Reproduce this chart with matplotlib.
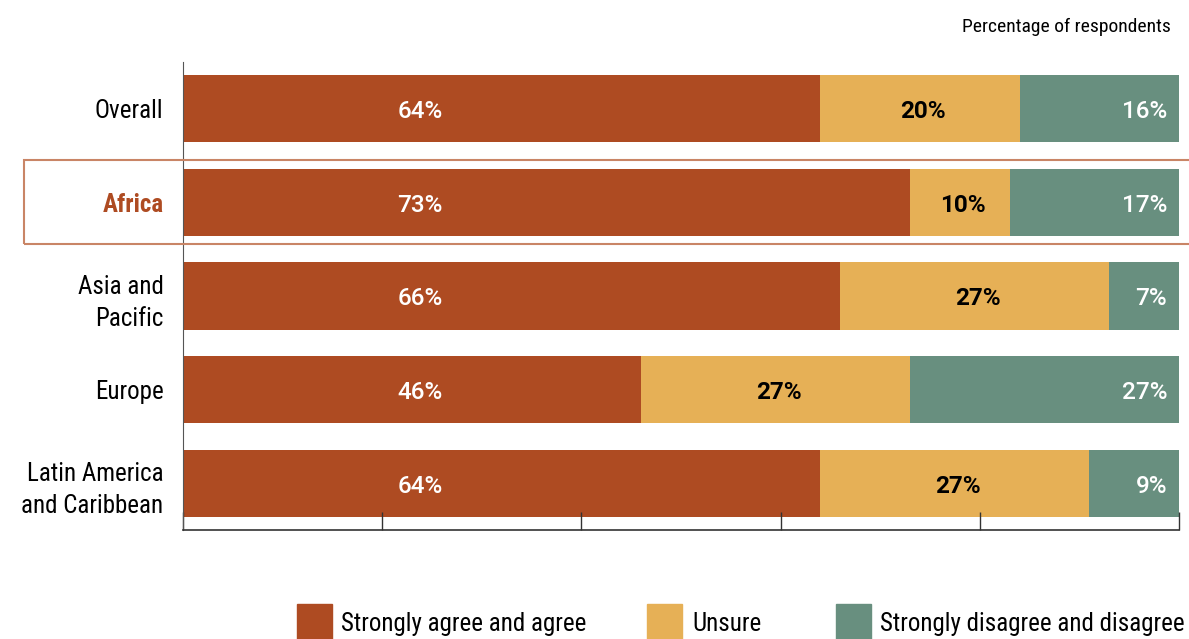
import matplotlib
matplotlib.use('Agg')
import matplotlib.pyplot as plt
from matplotlib.patches import Rectangle
from matplotlib import font_manager

# Survey shares by region
regions = ['Overall', 'Africa', 'Asia and\nPacific', 'Europe', 'Latin America\nand Caribbean']
agree = [64, 73, 66, 46, 64]
unsure = [20, 10, 27, 27, 27]
disagree = [16, 17, 7, 27, 9]
legend_labels = ['Strongly agree and agree', 'Unsure', 'Strongly disagree and disagree']

c_agree = '#AE4B22'
c_unsure = '#E6B056'
c_disagree = '#688F7F'
c_box = '#C98566'

names = {f.name for f in font_manager.fontManager.ttflist}
family = [f for f in ['Roboto Condensed', 'Liberation Sans Narrow', 'Roboto', 'DejaVu Sans'] if f in names]
plt.rcParams['font.family'] = family
num_family = [f for f in ['Roboto', 'DejaVu Sans'] if f in names]

fig = plt.figure(figsize=(11.89, 6.39), dpi=100)
W, H = 1189, 639
ax = fig.add_axes([183 / W, 1 - 530 / H, 996 / W, 468 / H])

y = list(range(len(regions)))
h = 0.717
ax.barh(y, agree, height=h, color=c_agree)
ax.barh(y, unsure, left=agree, height=h, color=c_unsure)
left3 = [a + u for a, u in zip(agree, unsure)]
ax.barh(y, disagree, left=left3, height=h, color=c_disagree)

num_kw = dict(fontsize=17.5, family=num_family, va='center')
for i in y:
    ty = i + 0.03
    ax.text(23.8, ty, f'{agree[i]}%', color='white', ha='center',
            fontweight='medium', **num_kw)
    ax.text(agree[i] + unsure[i] / 2 + 0.3, ty, f'{unsure[i]}%', color='black',
            ha='center', fontweight='bold', **num_kw)
    ax.text(98.8, ty, f'{disagree[i]}%', color='white', ha='right',
            fontweight='medium', **num_kw)

ax.set_xlim(0, 100)
ax.set_ylim(len(regions) - 0.5, -0.5)
ax.set_xticks([0, 20, 40, 60, 80, 100])
ax.set_xticklabels([])
ax.tick_params(axis='x', direction='in', length=13, width=1, color='#333333')
ax.set_yticks(y)
ax.set_yticklabels(regions, fontsize=18, linespacing=1.45)
ax.tick_params(axis='y', length=0, pad=14)
for lbl in ax.get_yticklabels():
    if lbl.get_text() == 'Africa':
        lbl.set_color(c_agree)
        lbl.set_fontweight('bold')
for s in ['top', 'right']:
    ax.spines[s].set_visible(False)
ax.spines['left'].set_color('#555555')
ax.spines['bottom'].set_color('#333333')
ax.spines['bottom'].set_linewidth(1.2)

# highlight frame around Africa row
fig.patches.append(Rectangle((24 / W, 1 - 244 / H), 1200 / W, 84 / H,
                             transform=fig.transFigure, fill=False,
                             edgecolor=c_box, linewidth=1.5, zorder=0))

fig.text(1171 / W, 1 - 27 / H, 'Percentage of respondents', fontsize=14,
         ha='right', va='center')

# legend at the bottom
for x0, xt, col, lab in zip([297, 647, 836], [341, 692, 880],
                            [c_agree, c_unsure, c_disagree], legend_labels):
    fig.patches.append(Rectangle((x0 / W, 1 - 639 / H), 35 / W, 35 / H,
                                 transform=fig.transFigure, color=col))
    fig.text(xt / W, 1 - 624 / H, lab, fontsize=18, ha='left', va='center')

fig.savefig('out.png', dpi=100)
